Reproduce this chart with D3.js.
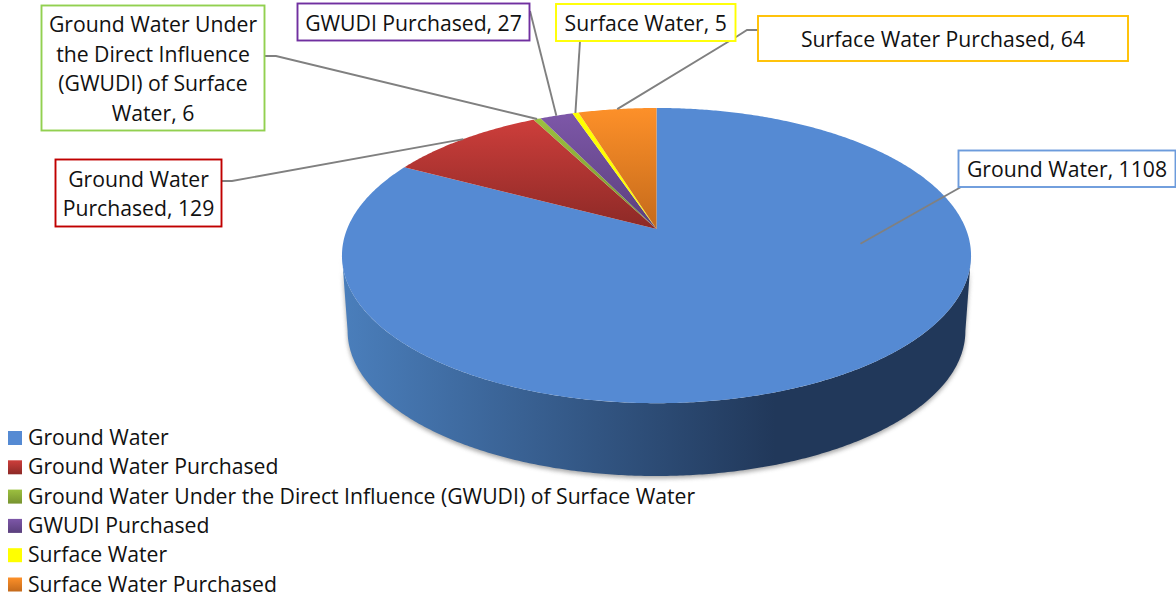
<!DOCTYPE html>
<html>
<head>
<meta charset="utf-8">
<script src="https://cdn.jsdelivr.net/npm/d3@7"></script>
<style>
  html, body { margin: 0; padding: 0; background: #fff; }
  svg { display: block; }
  text { font-family: "Open Sans", sans-serif; fill: #111; }
</style>
</head>
<body>
<div id="chart"></div>
<script>
// data
const categories = ["Ground Water", "Ground Water Purchased",
    "Ground Water Under the Direct Influence (GWUDI) of Surface Water",
    "GWUDI Purchased", "Surface Water", "Surface Water Purchased"]
const values = [1108, 129, 6, 27, 5, 64]

// slice colours: top and bottom of the vertical gradient
const colorsTop = ["#558ad3", "#cd3e3b", "#9cc03f", "#7d57a8", "#ffff00", "#fd9029"]
const colorsBottom = ["#558ad3", "#8c2926", "#77932f", "#5a3f7c", "#ffff00", "#c46a1b"]
const borderColors = ["#6c9bdc", "#c00000", "#92d050", "#7030a0", "#ffff00", "#ffc000"]

// label boxes: [x0, y0, x1, y1], elbow points of the leader, then where it lands on the slice
const labelBoxes = [
    [958.5, 150.5, 1175.5, 187],
    [55.5, 159.5, 221.5, 226.5],
    [41.5, 5.5, 264.5, 130.5],
    [297.5, 3.5, 529.5, 40.5],
    [556, 4, 735.5, 41],
    [758, 16, 1128, 61]
]
const leaderElbows = [
    [[961, 187]],
    [[222, 181], [232, 181]],
    [[265, 56], [276, 56]],
    [[530, 11]],
    [[580, 41]],
    [[758, 30], [747, 30], [736, 37]]
]
const leaderAlong = [0.332, 0.5, 0.5, 0.5, 0.5, 0.5]
const leaderRadius = [0.655, 1, 1, 1, 1, 1]

const dimensions = { width: 1176, height: 596 }

const wrapper = d3.select("#chart")
    .append("svg")
    .attr("width", dimensions.width)
    .attr("height", dimensions.height)

const defs = wrapper.append("defs")

categories.forEach((d, i) => {
    const grad = defs.append("linearGradient")
        .attr("id", `slice${i}`)
        .attr("x1", 0).attr("y1", 0).attr("x2", 0).attr("y2", 1)
    grad.append("stop").attr("offset", "0%").attr("stop-color", colorsTop[i])
    grad.append("stop").attr("offset", "100%").attr("stop-color", colorsBottom[i])
})

// side wall of the disc
const wallGrad = defs.append("linearGradient")
    .attr("id", "wall")
    .attr("gradientUnits", "userSpaceOnUse")
    .attr("x1", 345).attr("y1", 0).attr("x2", 775).attr("y2", 0)
wallGrad.append("stop").attr("offset", "0%").attr("stop-color", "#4a7ebb")
wallGrad.append("stop").attr("offset", "100%").attr("stop-color", "#21385a")

defs.append("filter")
    .attr("id", "blur")
    .attr("x", "-5%").attr("y", "-5%").attr("width", "110%").attr("height", "110%")
    .append("feGaussianBlur")
    .attr("stdDeviation", 2.2)

//------------------------ Perspective disc
// a flat circle seen at an angle: centre lands above the middle of the ellipse
const apex = { x: 656.5, y: 229 }
const persp = -0.18
const yGain = 101.6
const xGain = 309.4

function project(angle, r = 1) {
    const u = Math.sin(angle) * r
    const v = -Math.cos(angle) * r
    const w = 1 + persp * v
    return [apex.x + xGain * u / w, (yGain * v + apex.y) / w]
}

// bottom rim is the top rim a bit smaller and moved down
const rimMid = 255.5
const bottomScale = 0.982
const bottomMid = 331
function projectBottom(angle) {
    const p = project(angle)
    return [apex.x + (p[0] - apex.x) * bottomScale, bottomMid + (p[1] - rimMid) * bottomScale]
}

const pie = d3.pie().sort(null).value(d => d)
const arcs = pie(values)

const line = d3.line()
const step = Math.PI / 360
const arcAngles = (a0, a1) => d3.range(a0, a1, step).concat([a1])

function slicePath(d) {
    const pts = [project(0, 0)].concat(arcAngles(d.startAngle, d.endAngle).map(a => project(a)))
    return line(pts) + "Z"
}

// wall runs between the widest points of the rim, on the front part of the first slice
const widest = Math.acos(persp)
const wallStart = Math.max(arcs[0].startAngle, widest)
const wallEnd = Math.min(arcs[0].endAngle, Math.PI * 2 - widest)
const wallAngles = arcAngles(wallStart, wallEnd)
const wallPath = line(wallAngles.map(a => project(a))
    .concat(wallAngles.slice().reverse().map(a => projectBottom(a)))) + "Z"

wrapper.append("path")
    .attr("d", wallPath)
    .attr("transform", "translate(0,2.5)")
    .attr("fill", "#8c8c8c")
    .attr("opacity", 0.75)
    .attr("filter", "url(#blur)")

wrapper.append("path")
    .attr("d", wallPath)
    .attr("fill", "url(#wall)")

wrapper.append("g")
    .selectAll("path")
    .data(arcs)
    .join("path")
    .attr("d", slicePath)
    .attr("fill", (d, i) => `url(#slice${i})`)

//------------------------ Leader lines
const leaders = wrapper.append("g")
arcs.forEach((d, i) => {
    const a = d.startAngle + (d.endAngle - d.startAngle) * leaderAlong[i]
    leaders.append("path")
        .attr("d", line(leaderElbows[i].concat([project(a, leaderRadius[i])])))
        .attr("fill", "none")
        .attr("stroke", "#808080")
        .attr("stroke-width", 1.9)
})

//------------------------ Data labels
const lineHeight = 29.4
const labelFont = 21.2

function wrapLabel(sel, str, maxWidth) {
    const words = str.split(" ")
    const lines = []
    let current = ""
    words.forEach(w => {
        const test = current ? current + " " + w : w
        sel.text(test)
        if (sel.node().getComputedTextLength() > maxWidth && current) {
            lines.push(current)
            current = w
        } else {
            current = test
        }
    })
    lines.push(current)
    return lines
}

const labels = wrapper.append("g")
categories.forEach((name, i) => {
    const [x0, y0, x1, y1] = labelBoxes[i]
    labels.append("rect")
        .attr("x", x0).attr("y", y0)
        .attr("width", x1 - x0).attr("height", y1 - y0)
        .attr("fill", "#fff")
        .attr("stroke", borderColors[i])
        .attr("stroke-width", 1.9)
    const t = labels.append("text")
        .attr("text-anchor", "middle")
        .style("font-size", `${labelFont}px`)
    const lines = wrapLabel(t, `${name}, ${values[i]}`, x1 - x0 - 10)
    t.text(null)
    const firstY = (y0 + y1) / 2 - (lines.length - 1) * lineHeight / 2 + 8.5
    lines.forEach((l, j) => {
        t.append("tspan")
            .attr("x", (x0 + x1) / 2)
            .attr("y", firstY + j * lineHeight)
            .text(l)
    })
})

//------------------------ Legend
const legendY = d3.scalePoint()
    .domain(categories)
    .range([438, 584.5])

const legend = wrapper.append("g")
    .selectAll("g")
    .data(categories)
    .join("g")
    .attr("transform", d => `translate(0,${legendY(d)})`)

legend.append("rect")
    .attr("x", 8).attr("y", -7)
    .attr("width", 14).attr("height", 14)
    .attr("fill", (d, i) => `url(#slice${i})`)

legend.append("text")
    .attr("x", 28).attr("y", 7)
    .style("font-size", `${labelFont}px`)
    .text(d => d)
</script>
</body>
</html>
